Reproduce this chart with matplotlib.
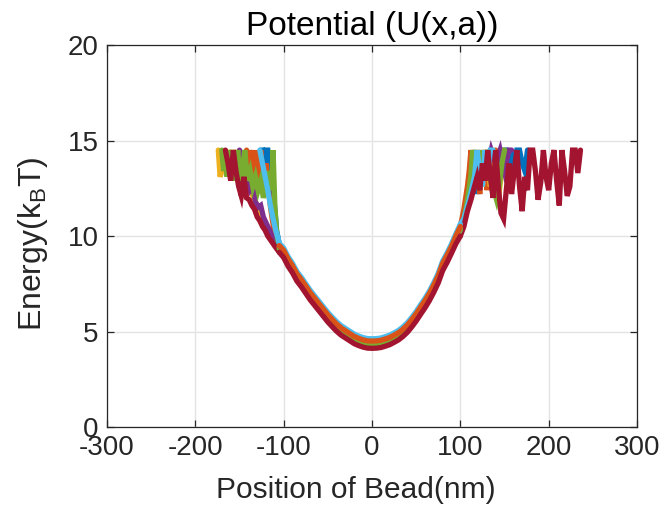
import matplotlib
matplotlib.use("Agg")
import matplotlib.pyplot as plt

plt.rcParams['font.family'] = ['Liberation Sans', 'DejaVu Sans']
plt.rcParams['axes.unicode_minus'] = False
plt.rcParams['mathtext.fontset'] = 'custom'
plt.rcParams['mathtext.rm'] = 'Liberation Sans'

# ---------------- data ----------------
x_ticks = [-300, -200, -100, 0, 100, 200, 300]
y_ticks = [0, 5, 10, 15, 20]

# shared bin centres of the smooth central part (nm)
x_mid = [-105, -100, -95, -90, -85, -80, -75, -70, -65, -60, -55, -50, -45, -40,
         -35, -30, -25, -20, -15, -10, -5, 0, 5, 10, 15, 20, 25, 30, 35, 40,
         45, 50, 55, 60, 65, 70, 75, 80, 85, 90, 95, 100]

# series 1 (blue)
blue_xl = [-126, -124, -122, -120, -118, -116, -114, -112, -110, -108]
blue_ul = [14.5, 14.5, 13.8, 14.5, 14.5, 13.1, 13.8, 12.4, 11.4, 10.3]
blue_um = [9.6, 9.3, 8.85, 8.5, 8.08, 7.76, 7.43, 7.1, 6.8, 6.5, 6.22, 5.93, 5.68,
           5.44, 5.24, 5.09, 4.94, 4.79, 4.69, 4.61, 4.56, 4.55, 4.56, 4.59, 4.66,
           4.74, 4.86, 4.99, 5.17, 5.39, 5.67, 5.98, 6.33, 6.68, 7.05, 7.5, 8.0,
           8.62, 9.05, 9.55, 10.05, 10.55]
blue_xr = [104, 106, 108, 110, 112, 114, 116, 118, 120, 122, 124, 126, 128, 130, 132,
           134, 136, 138, 140, 143, 146, 149, 152, 155, 158, 161, 164, 167, 170, 173,
           176]
blue_ur = [11.0, 11.5, 12.1, 12.7, 13.4, 12.6, 14.5, 13.1, 12.2, 13.8, 12.6, 14.5,
           12.9, 13.4, 14.5, 13.1, 12.4, 14.5, 13.8, 14.5, 13.4, 14.5, 14.5, 13.8,
           14.5, 13.4, 14.5, 14.5, 13.8, 13.4, 14.5]

# series 2 (orange)
orange_xl = [-142, -140, -138, -136, -134, -132, -130, -128, -126, -124, -122, -120,
             -118, -116, -114, -112, -110]
orange_ul = [14.5, 13.4, 14.5, 13.8, 12.9, 14.5, 13.1, 12.6, 14.5, 13.4, 12.4, 13.8,
             12.9, 11.9, 11.2, 10.6, 10.0]
orange_um = [9.5, 9.25, 8.8, 8.45, 8.02, 7.72, 7.38, 7.04, 6.75, 6.46, 6.17, 5.88,
             5.63, 5.39, 5.19, 5.04, 4.89, 4.74, 4.64, 4.56, 4.51, 4.5, 4.51, 4.54,
             4.61, 4.69, 4.81, 4.94, 5.12, 5.34, 5.62, 5.93, 6.28, 6.62, 7.0, 7.44,
             7.93, 8.57, 9.0, 9.45, 10.0, 10.5]
orange_xr = [104, 106, 108, 110, 112, 114, 116, 118, 120, 122, 124, 126, 128, 130, 132,
             134, 136, 138, 140]
orange_ur = [11.4, 12.0, 12.6, 13.4, 14.5, 13.4, 12.6, 14.5, 13.1, 12.2, 13.8, 12.9,
             14.5, 12.4, 13.4, 14.5, 12.9, 13.8, 14.5]

# series 3 (yellow)
yellow_xl = [-174, -172, -170, -168, -165, -162, -159, -156, -153, -150, -147, -144,
             -141, -138, -135, -132, -129, -126, -122, -118, -114, -110]
yellow_ul = [14.5, 13.1, 13.4, 14.5, 13.8, 14.5, 13.4, 14.5, 13.8, 13.1, 13.4, 12.7,
             12.9, 12.4, 12.1, 11.8, 11.5, 11.1, 10.8, 10.4, 10.1, 9.8]
yellow_um = [9.42, 9.15, 8.72, 8.36, 7.93, 7.63, 7.29, 6.95, 6.66, 6.37, 6.08, 5.79,
             5.54, 5.3, 5.1, 4.95, 4.8, 4.65, 4.55, 4.47, 4.42, 4.41, 4.42, 4.45,
             4.52, 4.6, 4.72, 4.85, 5.03, 5.25, 5.53, 5.84, 6.19, 6.53, 6.91, 7.35,
             7.84, 8.48, 8.92, 9.37, 9.92, 10.4]
yellow_xr = [104, 107, 110, 113, 116, 119, 122, 125, 128, 131, 134, 137, 140, 143, 146,
             149]
yellow_ur = [10.7, 11.4, 12.1, 12.9, 13.4, 14.5, 13.1, 12.6, 14.5, 13.8, 12.6, 14.5,
             13.4, 11.9, 13.1, 14.5]

# series 4 (purple)
purple_xl = [-150, -147, -144, -141, -138, -135, -132, -129, -126, -123, -120, -117,
             -114, -110]
purple_ul = [14.5, 13.8, 13.1, 12.9, 12.4, 12.6, 11.8, 11.5, 11.6, 11.0, 10.7, 10.4,
             10.1, 9.7]
purple_um = [9.38, 9.1, 8.68, 8.33, 7.9, 7.6, 7.26, 6.92, 6.63, 6.34, 6.05, 5.76,
             5.51, 5.27, 5.07, 4.92, 4.77, 4.62, 4.52, 4.44, 4.39, 4.38, 4.39, 4.42,
             4.49, 4.57, 4.69, 4.82, 5.0, 5.22, 5.5, 5.81, 6.16, 6.5, 6.88, 7.32,
             7.81, 8.45, 8.88, 9.33, 9.88, 10.3]
purple_xr = [104, 108, 112, 116, 120, 125, 130, 135, 140, 145, 150, 155, 158]
purple_ur = [10.7, 11.5, 12.4, 13.1, 12.8, 13.8, 13.4, 14.5, 13.8, 14.5, 13.4, 14.5, 14.5]

# series 5 (green)
green_xl = [-170, -168, -166, -164, -162, -160, -158, -156, -154, -152, -150, -148,
            -146, -144, -141, -138, -135, -132, -129, -126, -123, -120, -117, -114,
            -112, -110, -108]
green_ul = [14.5, 13.4, 14.5, 13.1, 14.5, 13.8, 14.5, 12.9, 13.4, 14.5, 13.1, 12.6,
            13.8, 14.5, 12.9, 13.4, 12.6, 13.1, 12.4, 12.9, 12.0, 12.6, 13.4, 12.4,
            14.5, 11.6, 10.2]
green_um = [9.33, 9.08, 8.63, 8.28, 7.85, 7.55, 7.21, 6.87, 6.58, 6.29, 6.0, 5.71,
            5.46, 5.22, 5.02, 4.87, 4.72, 4.57, 4.47, 4.39, 4.34, 4.33, 4.34, 4.37,
            4.44, 4.52, 4.64, 4.77, 4.95, 5.17, 5.45, 5.76, 6.11, 6.45, 6.83, 7.27,
            7.76, 8.4, 8.83, 9.28, 9.83, 10.33]
green_xr = [104, 107, 110, 112, 114, 117, 120, 123, 126, 129, 132, 135, 138, 141, 144,
            147, 150]
green_ur = [10.8, 11.6, 12.5, 13.2, 14.5, 13.8, 12.9, 14.5, 13.1, 14.5, 13.4, 12.8,
            12.4, 11.9, 12.6, 13.8, 14.5]

# series 6 (light blue)
lblue_xl = [-127, -124, -121, -118, -115, -112, -109, -107]
lblue_ul = [14.5, 13.8, 13.1, 12.4, 11.6, 10.9, 10.3, 10.0]
lblue_um = [9.62, 9.37, 8.92, 8.57, 8.14, 7.84, 7.5, 7.16, 6.87, 6.58, 6.29, 6.0,
            5.75, 5.51, 5.31, 5.16, 5.01, 4.86, 4.76, 4.68, 4.63, 4.62, 4.63, 4.66,
            4.73, 4.81, 4.93, 5.06, 5.24, 5.46, 5.74, 6.05, 6.4, 6.74, 7.12, 7.56,
            8.05, 8.69, 9.12, 9.57, 10.12, 10.62]
lblue_xr = [104, 107, 110, 113, 116, 119, 122, 125, 128, 131, 134, 137]
lblue_ur = [10.9, 11.4, 11.9, 12.5, 13.1, 14.5, 13.4, 12.6, 14.5, 13.1, 14.5, 14.5]

# series 7 (dark red)
dred_xl = [-166, -163, -160, -157, -154, -151, -148, -145, -142, -139, -136, -133,
           -130, -127, -124, -121, -118, -115, -112, -109]
dred_ul = [14.5, 13.8, 12.9, 14.5, 13.4, 12.6, 12.1, 13.1, 12.0, 11.9, 11.6, 11.4,
           11.0, 10.8, 10.5, 10.3, 10.0, 9.8, 9.6, 9.4]
dred_um = [9.15, 8.87, 8.42, 8.07, 7.64, 7.34, 7.0, 6.66, 6.37, 6.08, 5.79, 5.5,
           5.25, 5.01, 4.81, 4.66, 4.51, 4.36, 4.26, 4.18, 4.13, 4.12, 4.13, 4.16,
           4.23, 4.31, 4.43, 4.56, 4.74, 4.96, 5.24, 5.55, 5.9, 6.24, 6.62, 7.06,
           7.55, 8.19, 8.62, 9.1, 9.6, 10.0]
dred_xr = [104, 108, 112, 116, 119, 122, 125, 128, 131, 134, 137, 140, 143, 146, 149,
           152, 155, 158, 161, 164, 167, 170, 173, 176, 179, 182, 185, 188, 191, 194,
           197, 200, 203, 206, 209, 212, 215, 218, 221, 224, 227, 230, 233, 236]
dred_ur = [10.5, 11.3, 11.9, 12.6, 13.1, 12.4, 13.8, 12.9, 14.5, 13.1, 12.0, 14.5,
           12.6, 11.2, 10.9, 12.4, 13.8, 12.2, 13.4, 14.5, 12.6, 11.3, 13.1, 12.4,
           14.5, 14.5, 13.4, 11.9, 12.8, 14.5, 13.1, 12.4, 13.8, 14.5, 12.9, 11.6,
           14.5, 13.4, 12.1, 12.6, 14.5, 14.5, 13.3, 14.5]

# (left tail, centre, right tail, colour, layer of tails, layer of centre)
series = [
    (blue_xl, blue_ul, blue_um, blue_xr, blue_ur, (0.0, 0.447, 0.741), 2.00, 2.20),
    (orange_xl, orange_ul, orange_um, orange_xr, orange_ur, (0.85, 0.325, 0.098), 2.01, 2.25),
    (yellow_xl, yellow_ul, yellow_um, yellow_xr, yellow_ur, (0.929, 0.694, 0.125), 2.02, 2.22),
    (purple_xl, purple_ul, purple_um, purple_xr, purple_ur, (0.494, 0.184, 0.556), 2.03, 2.23),
    (green_xl, green_ul, green_um, green_xr, green_ur, (0.466, 0.674, 0.188), 2.04, 2.24),
    (lblue_xl, lblue_ul, lblue_um, lblue_xr, lblue_ur, (0.301, 0.745, 0.933), 2.05, 2.21),
    (dred_xl, dred_ul, dred_um, dred_xr, dred_ur, (0.635, 0.078, 0.184), 2.06, 2.26),
]

# ---------------- figure ----------------
fig = plt.figure(figsize=(6.63, 5.12), dpi=100)
ax = fig.add_axes([0.1614, 0.166, 0.7994, 0.746])

LW = 3.8
for xl, ul, um, xr, ur, col, zt, zm in series:
    # left tail (joined to the first centre bin)
    ax.plot(list(xl) + [x_mid[0]], list(ul) + [um[0]], color=col, linewidth=LW,
            solid_joinstyle='miter', solid_capstyle='round', zorder=zt)
    # right tail (joined to the last centre bin)
    ax.plot([x_mid[-1]] + list(xr), [um[-1]] + list(ur), color=col, linewidth=LW,
            solid_joinstyle='miter', solid_capstyle='round', zorder=zt)
    # smooth centre
    ax.plot(x_mid, um, color=col, linewidth=LW, solid_joinstyle='round',
            solid_capstyle='round', zorder=zm)

ax.set_xlim(-300, 300)
ax.set_ylim(0, 20)
ax.set_xticks(x_ticks)
ax.set_yticks(y_ticks)
ax.grid(True, color='#e3e3e3', linewidth=1.0)
ax.set_axisbelow(True)
for s in ax.spines.values():
    s.set_color('#262626')
    s.set_linewidth(0.9)
    s.set_zorder(3)
ax.tick_params(direction='in', length=5, width=0.9, colors='#262626',
               labelsize=20, top=True, right=True)
ax.tick_params(axis='x', pad=6)
ax.tick_params(axis='y', pad=6)

ax.set_title('Potential (U(x,a))', fontsize=24, color='black', pad=7)
ax.set_xlabel('Position of Bead(nm)', fontsize=21.5, color='#262626')
ax.xaxis.set_label_coords(0.47, -0.128)
ax.set_ylabel(r'Energy(k$_{\mathregular{B}}$T)', fontsize=23, color='#262626')
ax.yaxis.set_label_coords(-0.108, 0.48)

fig.savefig('out.png', dpi=100)
